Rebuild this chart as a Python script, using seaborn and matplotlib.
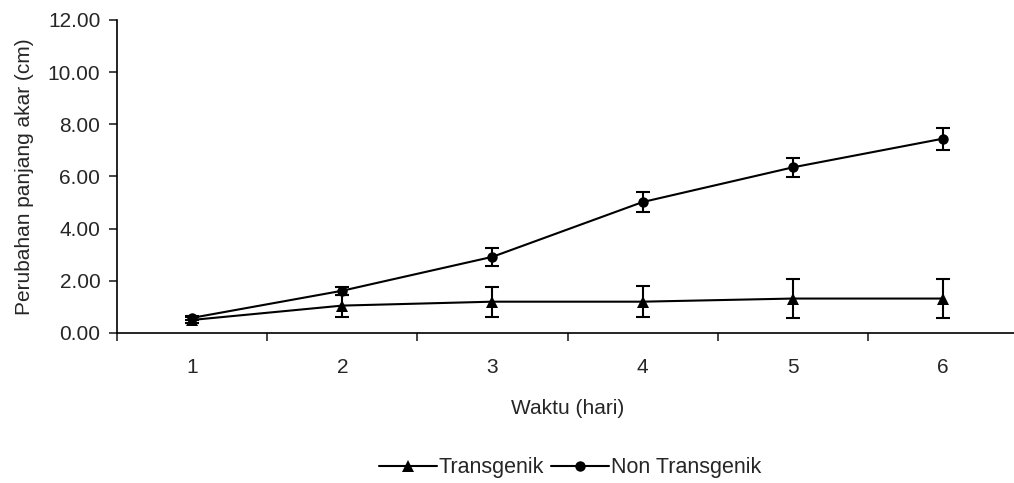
import pandas as pd
import matplotlib.pyplot as plt
import seaborn as sns
import numpy as np
from matplotlib.ticker import FormatStrFormatter, FixedLocator
from matplotlib.lines import Line2D

# data
days = [1, 2, 3, 4, 5, 6]
transgenik = [0.50, 1.05, 1.20, 1.20, 1.32, 1.32]
transgenik_err = [0.10, 0.42, 0.57, 0.60, 0.75, 0.75]
non_transgenik = [0.58, 1.62, 2.92, 5.02, 6.35, 7.45]
non_transgenik_err = [0.08, 0.15, 0.34, 0.40, 0.36, 0.42]
series_names = ["Transgenik", "Non Transgenik"]

df = pd.DataFrame({
    "Waktu": days * 2,
    "Nilai": transgenik + non_transgenik,
    "Seri": [series_names[0]] * 6 + [series_names[1]] * 6,
})

sns.set_style("white")
plt.rcParams['font.family'] = ['Liberation Sans', 'DejaVu Sans']
fs = 15

fig = plt.figure(figsize=(10.14, 4.83), dpi=100)
ax = fig.add_axes([0.1154, 0.3106, 0.8886, 0.648])

sns.lineplot(data=df, x="Waktu", y="Nilai", hue="Seri", style="Seri",
             palette=["black", "black"], markers={"Transgenik": "^", "Non Transgenik": "o"},
             dashes=False, markersize=7.5, linewidth=1.5, markeredgewidth=0,
             legend=False, ax=ax)
# triangles look a bit bigger than the circles
for ln in ax.lines:
    if ln.get_marker() == "^":
        ln.set_markersize(9)

# error bars
for vals, errs in [(transgenik, transgenik_err), (non_transgenik, non_transgenik_err)]:
    ax.errorbar(days, vals, yerr=errs, fmt="none", ecolor="black",
                elinewidth=1.5, capsize=5, capthick=1.5)

ax.set_xlim(0.5, 6.5)
ax.set_ylim(0, 12)
ax.set_yticks(np.arange(0, 13, 2))
ax.yaxis.set_major_formatter(FormatStrFormatter("%.2f"))
ax.set_xticks(days)
ax.xaxis.set_minor_locator(FixedLocator(np.arange(0.5, 7, 1)))
ax.tick_params(axis="x", which="major", length=0, labelsize=fs, pad=18)
ax.tick_params(axis="x", which="minor", length=6, width=1.2, direction="out", bottom=True)
ax.tick_params(axis="y", length=6, width=1.2, direction="out", left=True, labelsize=fs, pad=6)

for side in ["top", "right"]:
    ax.spines[side].set_visible(False)
for side in ["left", "bottom"]:
    ax.spines[side].set_color("black")
    ax.spines[side].set_linewidth(1.2)

ax.set_xlabel("Waktu (hari)", fontsize=fs, labelpad=16)
ax.set_ylabel("Perubahan panjang akar (cm)", fontsize=fs, labelpad=10)

handles = [
    Line2D([], [], color="black", marker="^", markersize=9, linewidth=1.5, markeredgewidth=0),
    Line2D([], [], color="black", marker="o", markersize=7.5, linewidth=1.5, markeredgewidth=0),
]
fig.legend(handles, series_names, loc="center", bbox_to_anchor=(570 / 1014, 1 - 468 / 483),
           ncol=2, frameon=False, fontsize=15.5, handlelength=2.7, handletextpad=0.1,
           columnspacing=0.3)

fig.savefig("out.png", dpi=100)
